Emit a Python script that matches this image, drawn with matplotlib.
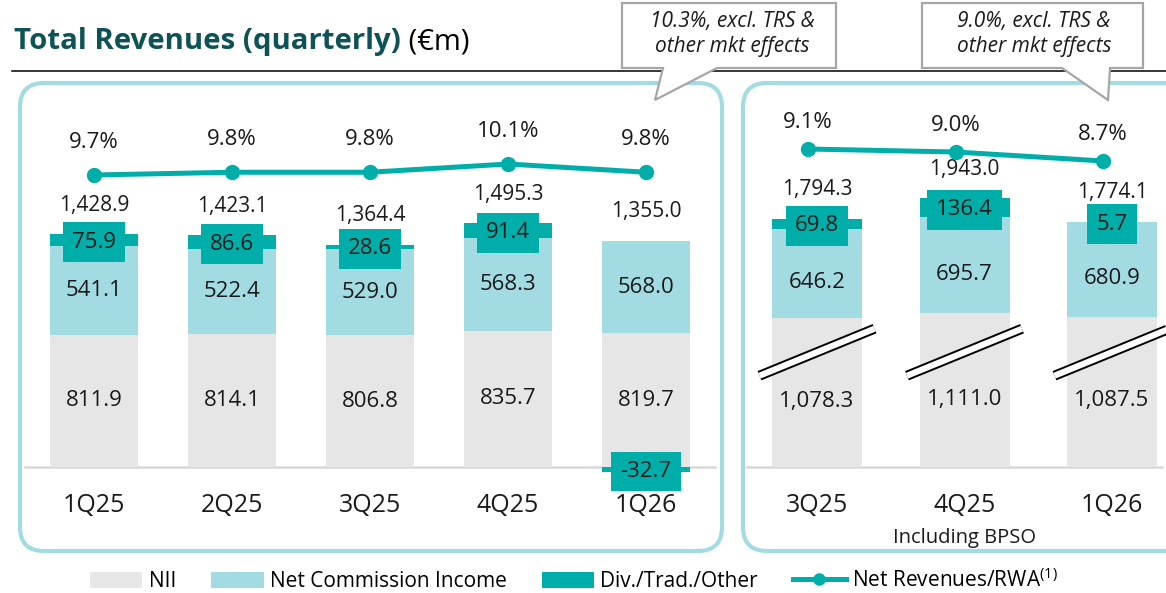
import numpy as np
import matplotlib.pyplot as plt
from matplotlib.patches import FancyBboxPatch, Polygon, Patch
from matplotlib.lines import Line2D

plt.rcParams['font.family'] = ['Open Sans', 'DejaVu Sans']
plt.rcParams['mathtext.fontset'] = 'custom'
plt.rcParams['mathtext.rm'] = 'Open Sans'

# ---------------- data ----------------
q_left = ['1Q25', '2Q25', '3Q25', '4Q25', '1Q26']
nii_left = [811.9, 814.1, 806.8, 835.7, 819.7]
comm_left = [541.1, 522.4, 529.0, 568.3, 568.0]
other_left = [75.9, 86.6, 28.6, 91.4, -32.7]
total_left = [1428.9, 1423.1, 1364.4, 1495.3, 1355.0]
rwa_left = [9.7, 9.8, 9.8, 10.1, 9.8]

q_right = ['3Q25', '4Q25', '1Q26']
nii_right = [1078.3, 1111.0, 1087.5]
comm_right = [646.2, 695.7, 680.9]
other_right = [69.8, 136.4, 5.7]
total_right = [1794.3, 1943.0, 1774.1]
rwa_right = [9.1, 9.0, 8.7]

callout_left = '10.3%, excl. TRS &\nother mkt effects'
callout_right = '9.0%, excl. TRS &\nother mkt effects'

# ---------------- style ----------------
GRAY = '#E6E6E6'
LBLUE = '#A2DBE2'
TEAL = '#00AEA9'
TITLE = '#0C5257'
TXT = '#1A1A1A'
PX = 72 / 100  # points per pixel

fig = plt.figure(figsize=(11.66, 5.93), dpi=100)

# overlay in pixel units for frames, title, callouts
ov = fig.add_axes([0, 0, 1, 1], zorder=0)
ov.set_xlim(0, 1166)
ov.set_ylim(593, 0)
ov.axis('off')

t1 = ov.text(14, 49, 'Total Revenues (quarterly)', fontsize=21.2, fontweight='bold',
             color=TITLE, va='baseline', ha='left')
ov.annotate(' (€m)', xy=(1, 0), xycoords=t1, fontsize=21, color='black',
            va='bottom', ha='left')
ov.plot([12, 1166], [71, 71], color='black', lw=1.1)

for x0, w in [(20, 702), (743, 460)]:
    ov.add_patch(FancyBboxPatch((x0, 83), w, 468, boxstyle='round,pad=0,rounding_size=24',
                                fc='none', ec=LBLUE, lw=3))

def callout(pts, cx, txt):
    ov.add_patch(Polygon(pts, closed=True, fc='white', ec='#A6A6A6', lw=1.6, zorder=5))
    ov.text(cx, 34, txt, ha='center', va='center', fontsize=15, style='italic',
            color=TXT, zorder=6, linespacing=1.3)

callout([(622, 3), (836, 3), (836, 68), (717, 68), (655, 100), (663, 68), (622, 68)],
        732, callout_left)
callout([(922, 3), (1143, 3), (1143, 68), (1110, 68), (1108, 100), (1062, 68), (922, 68)],
        1034, callout_right)


def panel(rect, xlim, ylim, plim, q, nii, comm, other, total, rwa, width,
          line_dx, pct_off, seg_off, base_from):
    ax = fig.add_axes(rect, zorder=2)
    ax.set_xlim(*xlim)
    ax.set_ylim(*ylim)
    ax.axis('off')
    ax.patch.set_alpha(0)
    x = np.arange(len(q))
    ax.axhline(0, xmin=base_from, xmax=0.99, color='#D9D9D9', lw=1.8, zorder=0)
    ax.bar(x, nii, width, color=GRAY, zorder=1)
    ax.bar(x, comm, width, bottom=nii, color=LBLUE, zorder=1)
    base = [n + c if o > 0 else 0 for n, c, o in zip(nii, comm, other)]
    ax.bar(x, other, width, bottom=base, color=TEAL, zorder=1)
    for i in x:
        ax.annotate(f'{nii[i]:,.1f}', (i, nii[i] / 2), xytext=(0, -seg_off * PX),
                    textcoords='offset points', ha='center', va='center',
                    fontsize=16, color=TXT)
        ax.annotate(f'{comm[i]:,.1f}', (i, nii[i] + comm[i] / 2), xytext=(0, -seg_off * PX),
                    textcoords='offset points', ha='center', va='center',
                    fontsize=16, color=TXT)
        ax.annotate(f'{other[i]:,.1f}', (i, base[i] + other[i] / 2), xytext=(0, -2 * PX),
                    textcoords='offset points', ha='center', va='center',
                    fontsize=16, color=TXT, zorder=3,
                    bbox=dict(boxstyle='square,pad=0.42', fc=TEAL, ec='none'))
        top = nii[i] + comm[i] + max(other[i], 0)
        ax.annotate(f'{total[i]:,.1f}', (i, top), xytext=(0, 29 * PX),
                    textcoords='offset points', ha='center', va='center',
                    fontsize=15, color=TXT)
        ax.annotate(q[i], (i, 0), xytext=(0, -39 * PX), textcoords='offset points',
                    ha='center', va='center', fontsize=18, color=TXT)
    axl = ax.twinx()
    axl.set_ylim(*plim)
    axl.axis('off')
    axl.patch.set_alpha(0)
    axl.plot(x + line_dx, rwa, color=TEAL, lw=3.6, marker='o', ms=10,
             solid_capstyle='round')
    for i in x:
        axl.annotate(f'{rwa[i]:.1f}%', (i + line_dx, rwa[i]), xytext=(0, pct_off * PX),
                     textcoords='offset points', ha='center', va='center',
                     fontsize=16, color=TXT)
    return ax


W, H = 1166, 593
# left panel: centers every 138 px from x=94, 0.163 px per EUR m, zero at y=467
ax1 = panel([20 / W, (H - 551) / H, 702 / W, 468 / H],
            ((20 - 94) / 138, (722 - 94) / 138),
            (-(551 - 467) / 0.163, (467 - 83) / 0.163),
            (10.1 - (551 - 164) / 27.5, 10.1 + (164 - 83) / 27.5),
            q_left, nii_left, comm_left, other_left, total_left, rwa_left,
            88 / 138, 0.0, 33, 0, 0.007)

# right panel: centers every 147.5 px from x=817, 0.1383 px per EUR m
ax2 = panel([742 / W, (H - 551) / H, 424 / W, 468 / H],
            ((742 - 817) / 147.5, (1166 - 817) / 147.5),
            (-(551 - 467) / 0.1383, (467 - 83) / 0.1383),
            (9.1 - (551 - 149) / 30, 9.1 + (149 - 83) / 30),
            q_right, nii_right, comm_right, other_right, total_right, rwa_right,
            90 / 147.5, -0.06, 27, 9, 0.012)

# axis-break marks on the right panel bars
for i in range(len(q_right)):
    xs = [i - 0.39, i + 0.39]
    ys = [830 - 170, 830 + 170]
    ax2.plot(xs, ys, color='black', lw=7.2, solid_capstyle='butt', zorder=2)
    ax2.plot(xs, ys, color='white', lw=4.4, solid_capstyle='butt', zorder=2)

ax2.annotate('Including BPSO', (1, 0), xytext=(0, -71 * PX), textcoords='offset points',
             ha='center', va='center', fontsize=14.5, color=TXT)

handles = [Patch(fc=GRAY, ec='none'), Patch(fc=LBLUE, ec='none'), Patch(fc=TEAL, ec='none'),
           Line2D([], [], color=TEAL, lw=3.6, marker='o', ms=8)]
labels = ['NII', 'Net Commission Income', 'Div./Trad./Other', 'Net Revenues/RWA$^{(1)}$']
fig.legend(handles, labels, loc='center', bbox_to_anchor=(574 / W, (H - 580) / H), ncol=4,
           frameon=False, fontsize=15, handlelength=2.5, handleheight=0.8,
           handletextpad=0.3, columnspacing=1.7)

fig.savefig('out.png', dpi=100)
